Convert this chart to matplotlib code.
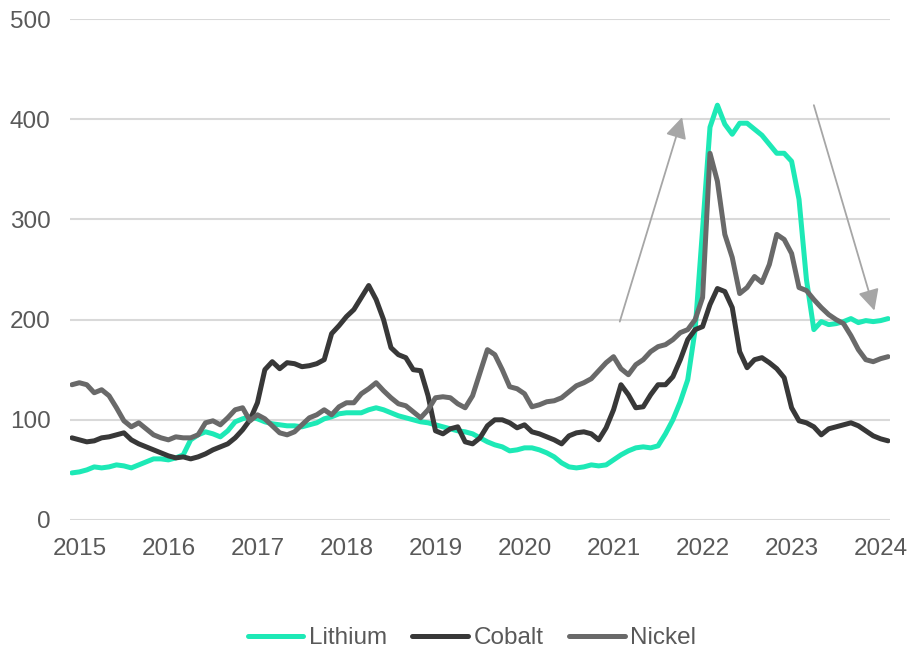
#!/usr/bin/env python3

import matplotlib.pyplot as plt
import numpy as np

#################################################
### Data (monthly price index, Dec 2014 .. Feb 2024)
#################################################

lithium = [47, 48, 50, 53, 52, 53, 55, 54, 52, 55, 58, 61, 61, 60, 62, 65, 80, 85, 88, 86,
           83, 89, 98, 101, 103, 101, 98, 96, 95, 94, 94, 93, 95, 97, 101, 103, 106, 107, 107, 107,
           110, 112, 110, 107, 104, 102, 100, 98, 97, 95, 93, 91, 89, 88, 86, 82, 78, 75, 73, 69,
           70, 72, 72, 70, 67, 63, 57, 53, 52, 53, 55, 54, 55, 60, 65, 69, 72, 73, 72, 74,
           86, 100, 118, 140, 190, 290, 392, 414, 395, 385, 396, 396, 390, 384, 375, 366, 366, 358, 320, 240,
           190, 198, 195, 196, 198, 201, 197, 199, 198, 199, 201]

cobalt = [82, 80, 78, 79, 82, 83, 85, 87, 80, 76, 73, 70, 67, 64, 62, 63, 61, 63, 66, 70,
          73, 76, 82, 90, 100, 117, 150, 158, 151, 157, 156, 153, 154, 156, 160, 186, 194, 203, 210, 222,
          234, 220, 200, 172, 165, 162, 150, 149, 124, 89, 86, 91, 93, 78, 76, 82, 94, 100, 100, 97,
          92, 95, 88, 86, 83, 80, 76, 84, 87, 88, 86, 80, 92, 110, 135, 125, 112, 113, 125, 135,
          135, 143, 160, 180, 190, 193, 215, 231, 228, 212, 168, 152, 160, 162, 157, 151, 142, 112, 99, 97,
          93, 85, 91, 93, 95, 97, 94, 89, 84, 81, 79]

nickel = [135, 137, 135, 127, 130, 124, 112, 99, 93, 97, 91, 85, 82, 80, 83, 82, 82, 85, 97, 99,
          95, 102, 110, 112, 99, 105, 101, 94, 87, 85, 88, 95, 102, 105, 110, 105, 113, 117, 117, 126,
          131, 137, 129, 122, 116, 114, 108, 102, 110, 122, 123, 122, 116, 112, 124, 147, 170, 165, 150, 133,
          131, 126, 113, 115, 118, 119, 122, 128, 134, 137, 141, 149, 157, 163, 151, 145, 155, 160, 168, 173,
          175, 180, 187, 190, 200, 222, 366, 338, 285, 262, 226, 232, 243, 237, 255, 285, 280, 266, 232, 229,
          220, 212, 205, 200, 196, 184, 170, 160, 158, 161, 163]

series_names = ['Lithium', 'Cobalt', 'Nickel']
series_values = [lithium, cobalt, nickel]
series_colors = ['#1DE9B6', '#383838', '#696969']

year_ticks = list(range(2015, 2025))
value_ticks = [0, 100, 200, 300, 400, 500]

# trend arrows: (tail, head) as (year, index value)
trend_arrows = [((2021.07, 198), (2021.77, 402)),
                ((2023.25, 414), (2023.93, 209))]

#################################################
### Plotting
#################################################

plt.rcParams['font.family'] = ['Liberation Sans', 'DejaVu Sans']
text_color = '#595959'
font_size = 17.5

months = 2014 + 11 / 12 + np.arange(len(lithium)) / 12

fig = plt.figure(figsize=(9.07, 6.51), dpi=100)
ax = fig.add_axes([70 / 907, 1 - 520 / 651, 820 / 907, 501 / 651])

for name, values, color in zip(series_names, series_values, series_colors):
    ax.plot(months, values, color=color, lw=3.6, label=name,
            solid_joinstyle='round', solid_capstyle='round')

for tail, head in trend_arrows:
    ax.annotate('', xy=head, xytext=tail,
                arrowprops=dict(arrowstyle='-|>', color='#A6A6A6', lw=1.3,
                                mutation_scale=32, shrinkA=0, shrinkB=0))

ax.set_xlim(months[0] - 0.022, months[-1] + 0.022)
ax.set_ylim(0, 500)
ax.set_xticks(year_ticks)
ax.set_yticks(value_ticks)
ax.grid(axis='y', color='#D9D9D9', lw=1.5)
ax.set_axisbelow(True)
for side in ax.spines:
    ax.spines[side].set_visible(False)

ax.tick_params(axis='both', length=0, labelsize=font_size, labelcolor=text_color)
ax.tick_params(axis='y', pad=14)
ax.tick_params(axis='x', pad=13)

handles, labels = ax.get_legend_handles_labels()
fig.legend(handles, labels, loc='center', bbox_to_anchor=(472 / 907, 1 - 638 / 651),
           ncol=3, frameon=False, fontsize=font_size, labelcolor=text_color,
           handlelength=2.3, handletextpad=0.22, columnspacing=1.05, borderpad=0)

fig.savefig('out.png', dpi=100)
